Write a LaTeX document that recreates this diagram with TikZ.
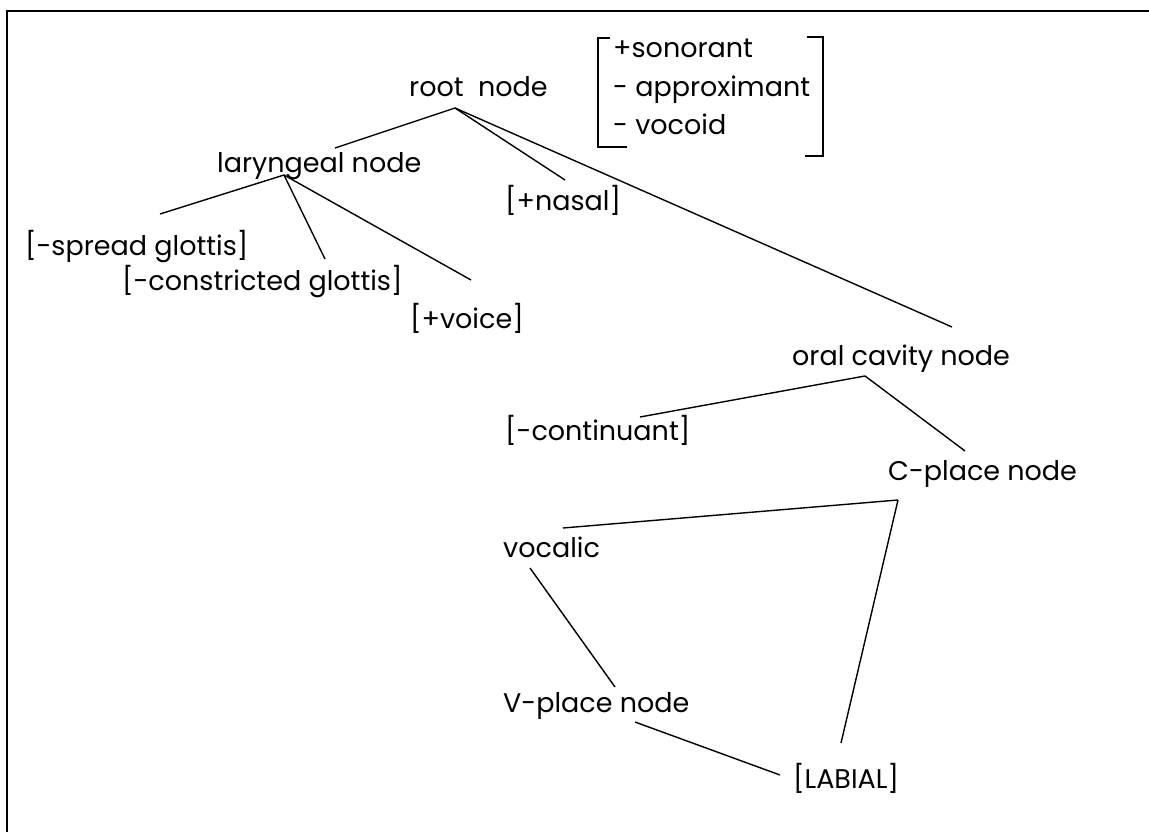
\documentclass[tikz,border=0pt]{standalone}
\usepackage{fontspec}
\setmainfont{Poppins}
\begin{document}
\begin{tikzpicture}[x=1pt,y=-1pt,
  lbl/.style={anchor=base west,inner sep=0pt,font=\fontsize{27}{31}\selectfont},
  branch/.style={line width=1.4pt},
  brk/.style={line width=2.4pt}]
\useasboundingbox (0,0) rectangle (1149,832);
% partial frame: top and left edges
\draw[line width=1.6pt] (1149,11) -- (7,11) -- (7,832);

% labels
\node[lbl] (root)  at (409,97)  {root\ \ node};
\node[lbl] (f1)    at (613,58)  {+sonorant};
\node[lbl] (f2)    at (613,97)  {- approximant};
\node[lbl] (f3)    at (613,135) {- vocoid};
\node[lbl] (lar)   at (217,172) {laryngeal node};
\node[lbl] (nas)   at (505,210) {[+nasal]};
\node[lbl] (spr)   at (25,255)  {[-spread glottis]};
\node[lbl] (con)   at (122,290) {[-constricted glottis]};
\node[lbl] (voi)   at (410,328) {[+voice]};
\node[lbl] (oral)  at (792,365) {oral cavity node};
\node[lbl] (cont)  at (505,440) {[-continuant]};
\node[lbl] (cpl)   at (888,480) {C-place node};
\node[lbl] (voc)   at (503,557) {vocalic};
\node[lbl] (vpl)   at (503,712) {V-place node};
\node[lbl] (lab)   at (793,788) {[LABIAL]};

% feature matrix brackets
\draw[brk] (610,38) -- (598,38) -- (598,147) -- (627,147);
\draw[brk] (807,37) -- (823,37) -- (823,156) -- (805,156);

% attachment points
\coordinate (root-b) at (455,108);
\coordinate (lar-t)  at (335,148);
\coordinate (nas-t)  at (565,180);
\coordinate (oral-t) at (952,327);
\coordinate (lar-b)  at (284,175);
\coordinate (spr-t)  at (160,214);
\coordinate (con-t)  at (325,259);
\coordinate (voi-t)  at (471,280);
\coordinate (oral-b) at (865,376);
\coordinate (cont-t) at (640,417);
\coordinate (cpl-t)  at (965,451);
\coordinate (cpl-b)  at (898,500);
\coordinate (voc-t)  at (563,528);
\coordinate (voc-b)  at (530,568);
\coordinate (vpl-t)  at (615,687);
\coordinate (vpl-b)  at (635,722);
\coordinate (lab-t)  at (841,743);
\coordinate (lab-l)  at (780,775);

% branches
\draw[branch] (root-b) -- (lar-t);
\draw[branch] (root-b) -- (nas-t);
\draw[branch] (root-b) -- (oral-t);
\draw[branch] (lar-b) -- (spr-t);
\draw[branch] (lar-b) -- (con-t);
\draw[branch] (lar-b) -- (voi-t);
\draw[branch] (oral-b) -- (cont-t);
\draw[branch] (oral-b) -- (cpl-t);
\draw[branch] (cpl-b) -- (voc-t);
\draw[branch] (cpl-b) -- (lab-t);
\draw[branch] (voc-b) -- (vpl-t);
\draw[branch] (vpl-b) -- (lab-l);
\end{tikzpicture}
\end{document}
